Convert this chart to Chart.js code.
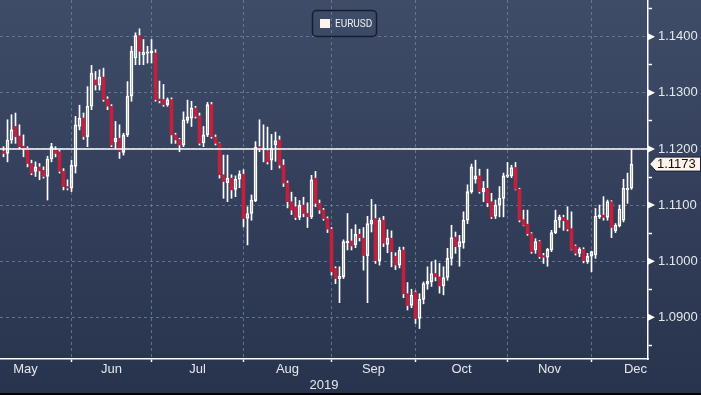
<!DOCTYPE html>
<html>
<head>
<meta charset="utf-8">
<script src="https://cdn.jsdelivr.net/npm/chart.js@4/dist/chart.umd.min.js"></script>
<style>
  html, body { margin: 0; padding: 0; background: #000; }
  #wrap { width: 701px; height: 393px; }
</style>
</head>
<body>
<div id="wrap"><canvas id="chart"></canvas></div>
<script>
// EURUSD daily candles, 8 May 2019 .. 13 Dec 2019 (weekdays)
const seriesName = 'EURUSD';
const opens = [
  1.1196,1.1192,1.1216,1.1240,1.1223,1.1205,1.1201,1.1174,1.1160,1.1168,
  1.1162,1.1151,1.1182,1.1198,1.1195,1.1160,1.1133,1.1130,1.1169,1.1240,
  1.1255,1.1222,1.1276,1.1323,1.1314,1.1328,1.1289,1.1276,1.1213,1.1219,
  1.1194,1.1225,1.1294,1.1362,1.1402,1.1368,1.1370,1.1371,1.1371,1.1289,
  1.1288,1.1279,1.1288,1.1225,1.1217,1.1207,1.1251,1.1255,1.1273,1.1259,
  1.1211,1.1225,1.1279,1.1221,1.1210,1.1154,1.1140,1.1148,1.1128,1.1146,
  1.1155,1.1076,1.1085,1.1108,1.1204,1.1199,1.1197,1.1180,1.1207,1.1216,
  1.1171,1.1139,1.1106,1.1097,1.1078,1.1100,1.1085,1.1079,1.1148,1.1103,
  1.1091,1.1076,1.1057,1.0987,1.0969,1.0972,1.1033,1.1036,1.1029,1.1048,
  1.1041,1.1010,1.1066,1.1076,1.1001,1.1073,1.1030,1.1041,1.1009,1.0993,
  1.1020,1.0942,1.0921,1.0945,1.0898,1.0932,1.0959,1.0963,1.0978,1.0972,
  1.0956,1.0971,1.1005,1.1043,1.1026,1.1033,1.1073,1.1124,1.1146,1.1152,
  1.1124,1.1130,1.1106,1.1080,1.1100,1.1112,1.1151,1.1152,1.1167,1.1128,
  1.1074,1.1066,1.1049,1.1020,1.1035,1.1010,1.1007,1.1020,1.1051,1.1073,
  1.1078,1.1073,1.1058,1.1027,1.1014,1.1021,1.0999,1.1009,1.1011,1.1079,
  1.1082,1.1078,1.1106,1.1054,1.1063,1.1073,1.1127,1.1130
];
const highs = [
  1.1204,1.1252,1.1261,1.1264,1.1243,1.1225,1.1204,1.1180,1.1177,1.1174,
  1.1168,1.1187,1.1210,1.1204,1.1198,1.1165,1.1145,1.1180,1.1258,1.1278,
  1.1264,1.1311,1.1349,1.1338,1.1341,1.1344,1.1293,1.1279,1.1249,1.1243,
  1.1228,1.1320,1.1383,1.1407,1.1414,1.1395,1.1383,1.1395,1.1377,1.1321,
  1.1315,1.1291,1.1291,1.1228,1.1219,1.1266,1.1287,1.1285,1.1276,1.1264,
  1.1240,1.1283,1.1283,1.1225,1.1211,1.1189,1.1189,1.1154,1.1152,1.1161,
  1.1163,1.1097,1.1118,1.1213,1.1252,1.1243,1.1239,1.1226,1.1230,1.1223,
  1.1181,1.1143,1.1123,1.1114,1.1108,1.1114,1.1104,1.1153,1.1160,1.1109,
  1.1094,1.1079,1.1060,1.0990,1.0990,1.1038,1.1085,1.1057,1.1065,1.1057,
  1.1060,1.1080,1.1110,1.1101,1.1077,1.1080,1.1056,1.1054,1.1015,1.1025,
  1.1025,1.0962,1.0950,1.0947,1.0942,1.0963,1.0990,1.0999,1.1002,1.0996,
  1.0990,1.1023,1.1064,1.1052,1.1046,1.1088,1.1136,1.1173,1.1180,1.1164,
  1.1142,1.1164,1.1121,1.1109,1.1133,1.1157,1.1176,1.1171,1.1176,1.1130,
  1.1091,1.1091,1.1051,1.1040,1.1037,1.1014,1.1023,1.1055,1.1091,1.1082,
  1.1082,1.1097,1.1088,1.1029,1.1024,1.1024,1.1014,1.1018,1.1094,1.1100,
  1.1115,1.1109,1.1108,1.1067,1.1100,1.1146,1.1157,1.1199
];
const lows = [
  1.1186,1.1177,1.1210,1.1210,1.1201,1.1186,1.1168,1.1154,1.1151,1.1145,
  1.1148,1.1109,1.1177,1.1186,1.1157,1.1127,1.1127,1.1124,1.1157,1.1234,
  1.1217,1.1204,1.1270,1.1305,1.1305,1.1285,1.1270,1.1204,1.1201,1.1183,
  1.1189,1.1222,1.1285,1.1350,1.1350,1.1350,1.1353,1.1353,1.1285,1.1282,
  1.1276,1.1276,1.1210,1.1210,1.1195,1.1204,1.1246,1.1240,1.1255,1.1207,
  1.1204,1.1222,1.1219,1.1207,1.1148,1.1112,1.1106,1.1112,1.1115,1.1131,
  1.1061,1.1029,1.1073,1.1106,1.1195,1.1177,1.1173,1.1163,1.1178,1.1166,
  1.1133,1.1095,1.1083,1.1074,1.1074,1.1079,1.1060,1.1076,1.1097,1.1085,
  1.1073,1.1051,1.0975,1.0960,1.0926,1.0969,1.1020,1.1020,1.1024,1.1036,
  1.0984,1.0926,1.1052,1.0996,1.0993,1.1026,1.1015,1.0990,1.0985,1.0988,
  1.0935,1.0913,1.0917,1.0889,1.0880,1.0924,1.0950,1.0955,1.0965,1.0943,
  1.0940,1.0966,1.0993,1.1014,1.0991,1.1023,1.1067,1.1121,1.1139,1.1121,
  1.1106,1.1097,1.1076,1.1076,1.1079,1.1079,1.1149,1.1149,1.1127,1.1070,
  1.1063,1.1046,1.1014,1.1014,1.1005,1.0996,1.0991,1.1017,1.1049,1.1060,
  1.1055,1.1054,1.1020,1.1011,1.1008,1.0997,1.0996,1.0981,1.1005,1.1076,
  1.1073,1.1073,1.1042,1.1051,1.1061,1.1070,1.1103,1.1128
];
const closes = [
  1.1192,1.1216,1.1234,1.1222,1.1204,1.1201,1.1174,1.1157,1.1168,1.1161,
  1.1151,1.1182,1.1204,1.1192,1.1160,1.1133,1.1130,1.1171,1.1243,1.1255,
  1.1222,1.1276,1.1335,1.1314,1.1328,1.1288,1.1276,1.1207,1.1219,1.1195,
  1.1225,1.1294,1.1374,1.1402,1.1374,1.1372,1.1373,1.1375,1.1288,1.1286,
  1.1279,1.1288,1.1225,1.1216,1.1207,1.1252,1.1257,1.1273,1.1258,1.1210,
  1.1225,1.1279,1.1222,1.1210,1.1154,1.1142,1.1148,1.1127,1.1146,1.1155,
  1.1076,1.1085,1.1109,1.1203,1.1200,1.1201,1.1177,1.1201,1.1215,1.1171,
  1.1139,1.1106,1.1091,1.1078,1.1100,1.1085,1.1079,1.1145,1.1103,1.1091,
  1.1076,1.1057,1.0981,1.0969,1.0973,1.1035,1.1036,1.1027,1.1048,1.1042,
  1.1010,1.1067,1.1073,1.1001,1.1073,1.1032,1.1041,1.1017,1.0993,1.1020,
  1.0942,1.0921,1.0939,1.0898,1.0932,1.0960,1.0964,1.0978,1.0972,1.0956,
  1.0971,1.1005,1.1042,1.1026,1.1035,1.1073,1.1124,1.1168,1.1152,1.1124,
  1.1130,1.1104,1.1079,1.1100,1.1112,1.1152,1.1154,1.1167,1.1128,1.1073,
  1.1064,1.1049,1.1017,1.1035,1.1008,1.1007,1.1021,1.1051,1.1073,1.1078,
  1.1072,1.1057,1.1021,1.1014,1.1021,1.1001,1.1009,1.1017,1.1080,1.1082,
  1.1078,1.1106,1.1060,1.1064,1.1093,1.1130,1.1130,1.1173
];
const monthNames = ['May', 'Jun', 'Jul', 'Aug', 'Sep', 'Oct', 'Nov', 'Dec'];
const yearLabel = '2019';
const priceTicks = [1.09, 1.10, 1.11, 1.12, 1.13, 1.14];
const refLevel = 1.12;

const RED = '#c41f3d';
const GRID = 'rgba(110,135,165,0.75)';
const TEXT = '#e4e8ee';

// weekday index counted from the first candle (8 May 2019)
const firstDay = new Date(Date.UTC(2019, 4, 8));
function isWeekday(d) { const w = d.getUTCDay(); return w !== 0 && w !== 6; }
function tradingIndex(d) {
  let n = 0;
  const t = new Date(firstDay);
  const step = d > firstDay ? 1 : -1;
  while (t.getTime() !== d.getTime()) {
    t.setUTCDate(t.getUTCDate() + step);
    if (isWeekday(t)) n += step;
  }
  return n;
}
// last weekday of April .. December
const monthEnds = [];
for (let m = 3; m <= 11; m++) {
  const d = new Date(Date.UTC(2019, m + 1, 0));
  while (!isWeekday(d)) d.setUTCDate(d.getUTCDate() - 1);
  monthEnds.push(tradingIndex(d));
}

const idx = closes.map((_, i) => i);
const isUp = i => closes[i] >= opens[i];
const upperWick = idx.map(i => ({ x: i, y: [Math.max(opens[i], closes[i]), highs[i]] }));
const lowerWick = idx.map(i => ({ x: i, y: [lows[i], Math.min(opens[i], closes[i])] }));
const bodies = idx.map(i => ({ x: i, y: [opens[i], closes[i]] }));

Chart.defaults.font.family = '"Liberation Sans", Arial, sans-serif';
Chart.defaults.font.size = 13;

const decor = {
  id: 'decor',
  beforeDraw(chart) {
    const { ctx, width, height } = chart;
    const g = ctx.createLinearGradient(0, 0, 0, height);
    g.addColorStop(0, '#3f4c68');
    g.addColorStop(1, '#28334d');
    ctx.save();
    ctx.fillStyle = g;
    ctx.fillRect(0, 0, width, height);
    ctx.restore();
  },
  afterDatasetsDraw(chart) {
    const { ctx, chartArea } = chart;
    const y = chart.scales.y.getPixelForValue(refLevel);
    ctx.save();
    ctx.strokeStyle = '#ffffff';
    ctx.lineWidth = 1.5;
    ctx.beginPath();
    ctx.moveTo(chartArea.left, y);
    ctx.lineTo(chartArea.right, y);
    ctx.stroke();
    ctx.restore();
  },
  afterDraw(chart) {
    const { ctx, chartArea } = chart;
    const ys = chart.scales.y;
    const ax = chartArea.right;
    ctx.save();
    // tick arrows on the price axis
    ctx.fillStyle = '#ffffff';
    priceTicks.forEach(p => {
      const y = ys.getPixelForValue(p);
      ctx.beginPath();
      ctx.moveTo(ax, y - 3.5);
      ctx.lineTo(ax + 7, y);
      ctx.lineTo(ax, y + 3.5);
      ctx.closePath();
      ctx.fill();
    });
    // last price tag
    const last = closes[closes.length - 1];
    const ly = ys.getPixelForValue(last);
    ctx.beginPath();
    ctx.moveTo(ax + 1.5, ly);
    ctx.lineTo(ax + 8, ly - 7);
    ctx.lineTo(chart.width - 0.5, ly - 7);
    ctx.lineTo(chart.width - 0.5, ly + 7);
    ctx.lineTo(ax + 8, ly + 7);
    ctx.closePath();
    ctx.fillStyle = '#fdf3ea';
    ctx.fill();
    ctx.strokeStyle = '#1b2233';
    ctx.lineWidth = 1;
    ctx.stroke();
    ctx.fillStyle = '#111111';
    ctx.font = '13px "Liberation Sans", Arial, sans-serif';
    ctx.textBaseline = 'middle';
    ctx.textAlign = 'left';
    ctx.fillText(last.toFixed(4), ax + 9, ly + 0.5);
    // legend box
    const bx = 312.5, by = 10.5, bw = 64, bh = 26;
    ctx.beginPath();
    ctx.roundRect(bx, by, bw, bh, 4);
    ctx.strokeStyle = '#161d2d';
    ctx.lineWidth = 1.5;
    ctx.stroke();
    ctx.fillStyle = '#fff2ee';
    ctx.fillRect(320, 19, 10, 9);
    ctx.fillStyle = '#eef0f4';
    ctx.font = '10px Roboto, sans-serif';
    ctx.fillText(chart.data.datasets[0].label, 335, 24);
    ctx.restore();
  }
};

new Chart(document.getElementById('chart'), {
  type: 'bar',
  data: {
    datasets: [
      {
        label: seriesName,
        data: bodies,
        maxBarThickness: 3,
        minBarLength: 1.5,
        borderSkipped: false,
        borderWidth: ctx => isUp(ctx.dataIndex) ? 1 : 0,
        borderColor: '#ffffff',
        backgroundColor: ctx => isUp(ctx.dataIndex) ? 'rgba(0,0,0,0)' : RED
      },
      { label: 'hi', data: upperWick, maxBarThickness: 1, backgroundColor: '#ffffff', borderWidth: 0 },
      { label: 'lo', data: lowerWick, maxBarThickness: 1, backgroundColor: '#ffffff', borderWidth: 0 }
    ]
  },
  options: {
    responsive: true,
    maintainAspectRatio: false,
    animation: false,
    layout: { padding: 0 },
    datasets: { bar: { grouped: false, barPercentage: 1, categoryPercentage: 1 } },
    plugins: { legend: { display: false }, tooltip: { enabled: false } },
    scales: {
      x: {
        type: 'linear',
        min: -0.875,
        max: 161.125,
        offset: false,
        afterBuildTicks: s => {
          const t = [];
          monthNames.forEach((name, k) => {
            t.push({ value: (monthEnds[k] + monthEnds[k + 1]) / 2, kind: 'label', name });
            if (k + 1 < monthNames.length) t.push({ value: monthEnds[k + 1], kind: 'line' });
          });
          s.ticks = t;
        },
        afterFit: s => { s.height = 34; s.paddingLeft = 0; s.paddingRight = 0; },
        grid: {
          offset: false,
          color: c => c.tick && c.tick.kind === 'line' ? GRID : 'rgba(0,0,0,0)',
          tickColor: c => c.tick && c.tick.kind === 'line' ? '#ffffff' : 'rgba(0,0,0,0)',
          tickLength: 3,
          tickWidth: 1.5
        },
        border: { color: '#ffffff', width: 1.5, dash: [3, 3] },
        ticks: {
          autoSkip: false,
          maxRotation: 0,
          padding: 0,
          color: TEXT,
          callback: (v, i, ticks) => ticks[i].kind === 'label' ? ticks[i].name : ''
        },
        title: { display: true, text: yearLabel, color: TEXT, padding: 0, font: { size: 13 } }
      },
      y: {
        position: 'right',
        beginAtZero: false,
        min: 1.08257,
        max: 1.14654,
        afterBuildTicks: s => {
          const t = [];
          priceTicks.forEach(p => {
            t.push({ value: p - 0.005, kind: 'minor' });
            t.push({ value: p, kind: 'major' });
          });
          t.push({ value: priceTicks[priceTicks.length - 1] + 0.005, kind: 'minor' });
          s.ticks = t;
        },
        afterFit: s => { s.width = 53; s.paddingTop = 0; s.paddingBottom = 0; },
        grid: {
          color: c => c.tick && c.tick.kind === 'major' ? GRID : 'rgba(0,0,0,0)',
          tickColor: c => c.tick && c.tick.kind === 'minor' ? '#ffffff' : 'rgba(0,0,0,0)',
          tickLength: 4,
          tickWidth: 1.5
        },
        border: { color: '#ffffff', width: 1.5, dash: [3, 3] },
        ticks: {
          autoSkip: false,
          padding: 6,
          color: TEXT,
          callback: (v, i, ticks) => ticks[i].kind === 'major' ? v.toFixed(4) : ''
        }
      }
    }
  },
  plugins: [decor]
});
</script>
</body>
</html>
